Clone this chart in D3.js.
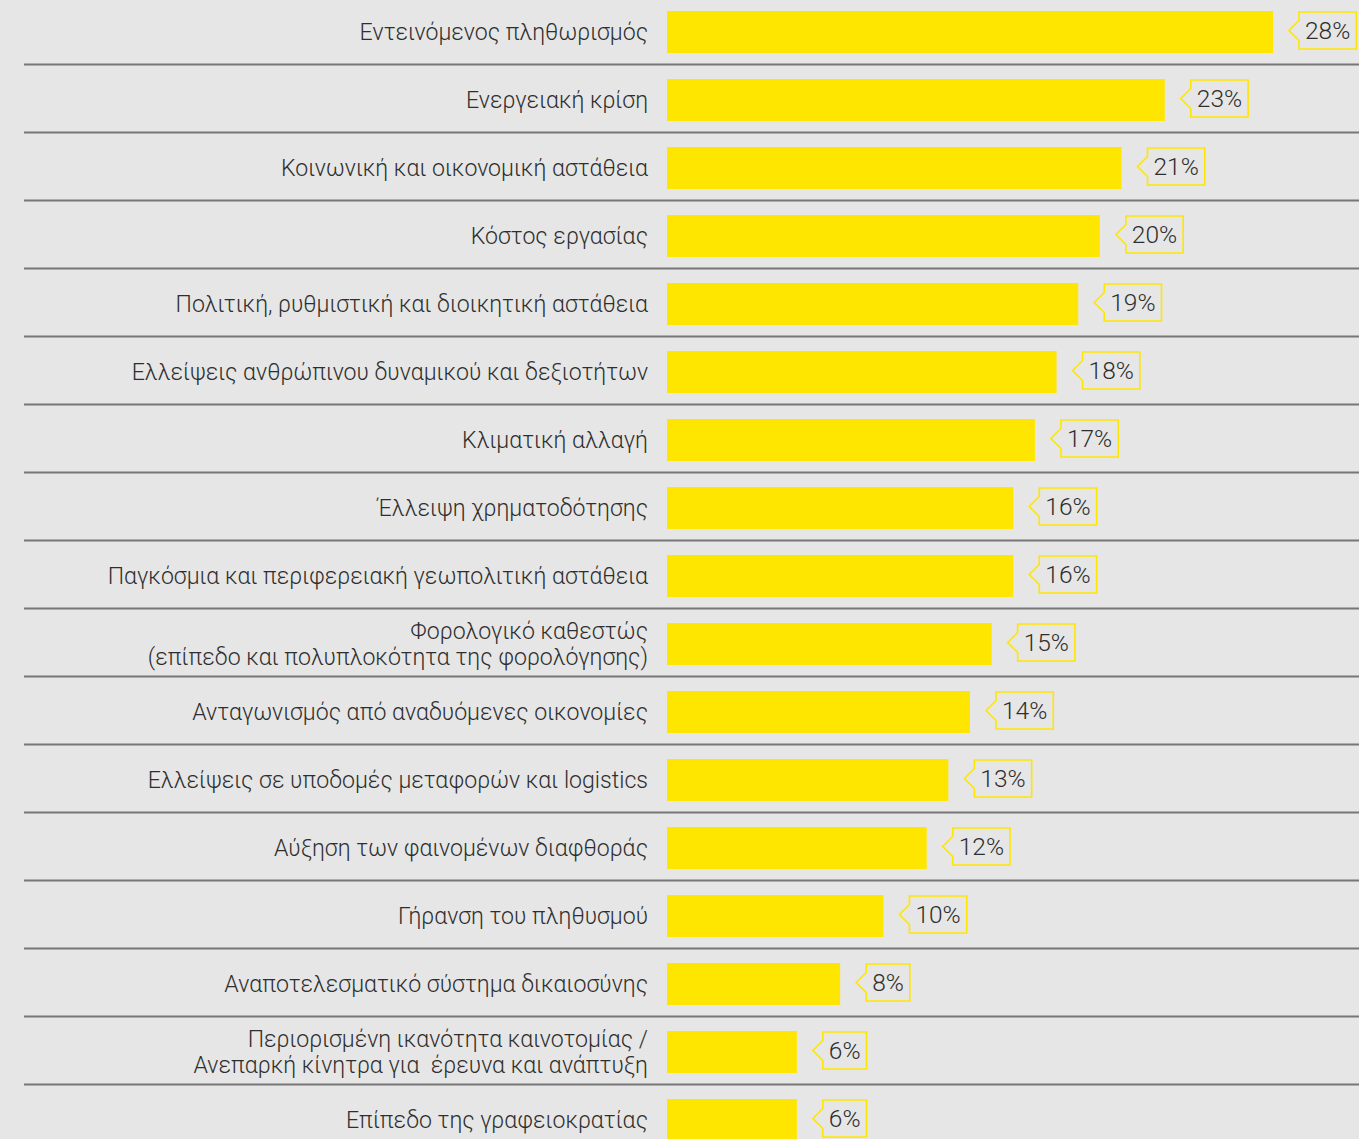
<!DOCTYPE html>
<html><head><meta charset="utf-8">
<script src="https://cdn.jsdelivr.net/npm/d3@7"></script>
<style>html,body{margin:0;padding:0;background:#e6e6e6;overflow:hidden} text{white-space:pre}</style>
</head><body>
<svg id="chart" width="1359" height="1139"></svg>
<script>
const categories = [
  ["Εντεινόμενος πληθωρισμός"],
  ["Ενεργειακή κρίση"],
  ["Κοινωνική και οικονομική αστάθεια"],
  ["Κόστος εργασίας"],
  ["Πολιτική, ρυθμιστική και διοικητική αστάθεια"],
  ["Ελλείψεις ανθρώπινου δυναμικού και δεξιοτήτων"],
  ["Κλιματική αλλαγή"],
  ["Έλλειψη χρηματοδότησης"],
  ["Παγκόσμια και περιφερειακή γεωπολιτική αστάθεια"],
  ["Φορολογικό καθεστώς", "(επίπεδο και πολυπλοκότητα της φορολόγησης)"],
  ["Ανταγωνισμός από αναδυόμενες οικονομίες"],
  ["Ελλείψεις σε υποδομές μεταφορών και logistics"],
  ["Αύξηση των φαινομένων διαφθοράς"],
  ["Γήρανση του πληθυσμού"],
  ["Αναποτελεσματικό σύστημα δικαιοσύνης"],
  ["Περιορισμένη ικανότητα καινοτομίας /", "Ανεπαρκή κίνητρα για  έρευνα και ανάπτυξη"],
  ["Επίπεδο της γραφειοκρατίας"]
];
const values = [28, 23, 21, 20, 19, 18, 17, 16, 16, 15, 14, 13, 12, 10, 8, 6, 6];
const valueLabels = ["28%","23%","21%","20%","19%","18%","17%","16%","16%","15%","14%","13%","12%","10%","8%","6%","6%"];

const svg = d3.select("#chart");
const W = 1359, H = 1139;
const font = "Roboto, 'Noto Sans', sans-serif";
const rowStep = 68, firstCenter = 32;
const idx = d3.range(values.length);
const y = d3.scaleBand().domain(idx)
  .range([firstCenter - rowStep/2, firstCenter - rowStep/2 + rowStep*values.length]);
const x = d3.scaleLinear().domain([0, 28]).range([667, 1273]);
const barH = 42;
const center = i => y(i) + rowStep/2;

svg.append("rect").attr("width", W).attr("height", H).attr("fill", "#e6e6e6");

// separators
svg.append("g").selectAll("line").data(idx.slice(0, -1)).join("line")
  .attr("x1", 24).attr("x2", W)
  .attr("y1", i => center(i) + 32.5).attr("y2", i => center(i) + 32.5)
  .attr("stroke", "#767676").attr("stroke-width", 2);

// bars
svg.append("g").selectAll("rect").data(idx).join("rect")
  .attr("x", x(0)).attr("y", i => center(i) - barH/2)
  .attr("width", i => x(values[i]) - x(0)).attr("height", barH)
  .attr("fill", "#ffe600");

// category labels
const lab = svg.append("g").selectAll("text").data(idx).join("text")
  .attr("x", 648).attr("text-anchor", "end")
  .attr("font-family", font).attr("font-weight", 300).attr("font-size", 23.1).attr("fill", "#2e2e2e");
lab.each(function(i) {
  const lines = categories[i];
  const c = center(i);
  const lh = 26.5;
  const t = d3.select(this);
  lines.forEach((s, k) => {
    t.append("tspan").attr("x", 648)
      .attr("y", c + (k - (lines.length - 1)/2) * lh)
      .attr("dy", "0.35em").text(s);
  });
});

// value callouts
const boxH = 37, tipGap = 16, arrowW = 10, pad = 6;
const g = svg.append("g").selectAll("g").data(idx).join("g")
  .attr("transform", i => `translate(${x(values[i]) + tipGap},${center(i) - 1.5})`);
g.each(function(i) {
  const gg = d3.select(this);
  const t = gg.append("text").attr("x", arrowW + pad).attr("y", 0).attr("dy", "0.36em")
    .attr("font-family", font).attr("font-weight", 300).attr("font-size", 24.5).attr("fill", "#2e2e2e").text(valueLabels[i]);
  const tw = t.node().getComputedTextLength();
  const bw = tw + pad*2;
  const a = arrowW, h2 = boxH/2;
  const p = `M0,0 L${a},-10 L${a},${-h2} L${a+bw},${-h2} L${a+bw},${h2} L${a},${h2} L${a},10 Z`;
  gg.insert("path", "text").attr("d", p).attr("fill", "none").attr("stroke", "#ffe600").attr("stroke-width", 1.6);
});
</script>
</body></html>
